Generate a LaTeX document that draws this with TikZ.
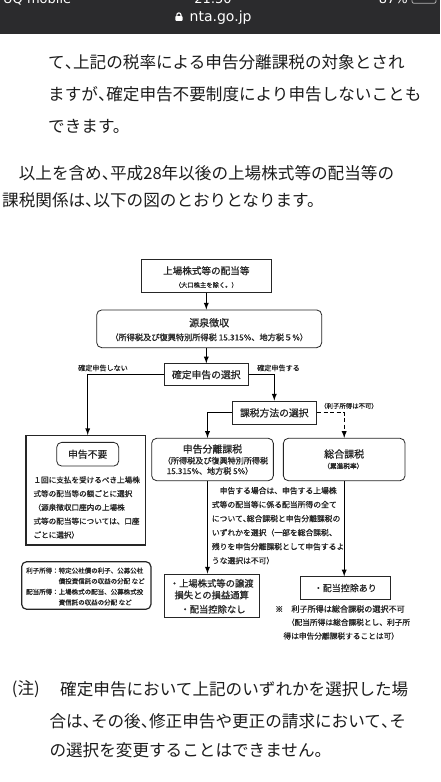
\documentclass[tikz,border=0pt]{standalone}
\usepackage{fontspec}
\newfontfamily\jpfont{Noto Sans CJK JP}
\newfontfamily\figfont[FakeBold=0.8]{Noto Sans CJK JP}
\newfontfamily\barfont{DejaVu Sans}
\definecolor{barbg}{RGB}{43,43,45}
\definecolor{ink}{RGB}{28,28,28}
\definecolor{flowink}{RGB}{38,38,38}
\newcommand{\jsize}[1]{\jpfont\fontsize{#1}{#1}\selectfont}
\newcommand{\fsize}[1]{\figfont\fontsize{#1}{#1}\selectfont}
\newcommand{\hk}{\makebox[0.5em][l]{、}}
\tikzset{
  pagetxt/.style={anchor=west, inner sep=0pt, text=ink, font=\jsize{16.6}},
  bartxt/.style={inner sep=0pt, text=white, font=\barfont\fontsize{13}{15}\selectfont},
  figtxt/.style={inner sep=0pt, text=flowink},
  box/.style={draw=flowink, line width=0.8pt, inner sep=0pt, text=flowink},
  rbox/.style={box, rounded corners=5pt},
  link/.style={draw=black, line width=1.3pt, -latex},
}

\begin{document}
\begin{tikzpicture}[x=1pt, y=-1pt]
\useasboundingbox (0,0) rectangle (440,782);
\fill[white] (0,0) rectangle (440,782);

% browser bar
\fill[barbg] (0,0) rectangle (440,33.5);
\begin{scope}
\clip (0,0) rectangle (440,33.5);
\node[bartxt, anchor=base west] (carrier) at (3,3.5) {UQ mobile};
\node[bartxt, anchor=base] (clock) at (213,3.5) {21:50};
\node[bartxt, anchor=base east] (battery) at (408,3.5) {87\%};
\draw[white!70!black, rounded corners=2pt, line width=0.8pt] (412,-7) rectangle (436,3.3);
\end{scope}
\fill[white, rounded corners=0.8pt] (175.3,16) rectangle (182.5,20.8);
\draw[white, line width=1.1pt] (176.8,16.2) -- (176.8,15) arc[start angle=180, end angle=360, radius=2.1] -- (181,16.2);
\node[anchor=west, inner sep=0pt, text=white, font=\barfont\fontsize{14}{16}\selectfont] (site) at (189.5,17.5) {nta.go.jp};

% page text
\node[pagetxt] (introa) at (48,62) {て\hk 上記の税率による申告分離課税の対象とされ};
\node[pagetxt] (introb) at (48,94.3) {ますが\hk 確定申告不要制度により申告しないことも};
\node[pagetxt] (introc) at (48,126) {できます。};
\node[pagetxt] (parta) at (2,173.3) {　以上を含め\hk 平成28年以後の上場株式等の配当等の};
\node[pagetxt] (partb) at (2,200) {課税関係は\hk 以下の図のとおりとなります。};

% flowchart
\node[box, minimum width=129.3pt, minimum height=33.4pt] (stock) at (206.3,276) {};
\node[figtxt, font=\fsize{9.6}] (stockt) at (206.3,270.7) {上場株式等の配当等};
\node[figtxt, font=\fsize{6.3}] (stocks) at (206.3,285) {（大口株主を除く。）};

\node[rbox, minimum width=225pt, minimum height=37.7pt] (gensen) at (209.2,328.8) {};
\node[figtxt, font=\fsize{10}] (gensent) at (209.2,322.7) {源泉徴収};
\node[figtxt, font=\fsize{8.2}] (gensens) at (209.2,337.3) {（所得税及び復興特別所得税 15.315\%、地方税５\%）};

\node[box, minimum width=84.7pt, minimum height=22pt, font=\fsize{9.8}] (kakutei) at (206.3,374.7) {確定申告の選択};
\node[figtxt, font=\fsize{7.1}] (nolbl) at (103,368) {確定申告しない};
\node[figtxt, font=\fsize{7.1}] (yeslbl) at (278.5,368) {確定申告する};

\node[box, minimum width=84.7pt, minimum height=23.7pt, font=\fsize{9.8}] (houhou) at (274.3,412.8) {課税方法の選択};
\node[figtxt, font=\fsize{6.4}] (rishi) at (349,406) {（利子所得は不可）};

\node[box, line width=1.4pt, minimum width=119.7pt, minimum height=109.3pt] (fuyou) at (85.8,490.3) {};
\node[rbox, minimum width=62pt, minimum height=23.7pt, font=\fsize{9.8}] (fuyout) at (87.7,454.2) {申告不要};
\node[figtxt, anchor=north west, align=left, font=\figfont\fontsize{7.6}{13.75}\selectfont] (fuyounote) at (33.3,476.2)
  {１回に支払を受けるべき上場株\\式等の配当等の額ごとに選択\\（源泉徴収口座内の上場株\\式等の配当等については、口座\\ごとに選択）};

\node[rbox, minimum width=121.7pt, minimum height=42.4pt] (bunri) at (212.5,459.5) {};
\node[figtxt, font=\fsize{9.9}] (bunrit) at (212.5,449) {申告分離課税};
\node[figtxt, font=\fsize{8.1}] (bunris) at (215.5,460.7) {（所得税及び復興特別所得税};
\node[figtxt, font=\fsize{8.1}] (bunrir) at (210,471) {15.315\%、地方税 5\%）};

\node[rbox, minimum width=121.7pt, minimum height=42.4pt] (sougou) at (344.2,459.5) {};
\node[figtxt, font=\fsize{10}] (sougout) at (344.2,454) {総合課税};
\node[figtxt, font=\fsize{6.7}] (sougous) at (343.3,466) {（累進税率）};

\node[figtxt, anchor=north west, align=left, font=\figfont\fontsize{7.8}{14}\selectfont] (choice) at (211.7,486.8)
  {　申告する場合は、申告する上場株\\式等の配当等に係る配当所得の全て\\について\hk 総合課税と申告分離課税の\\いずれかを選択（一部を総合課税、\\残りを申告分離課税として申告するよ\\うな選択は不可）};

\node[box, minimum width=95.3pt, minimum height=43.7pt] (jouto) at (211.7,595.8) {};
\node[figtxt, font=\fsize{9.3}] (joutoa) at (211.7,583.3) {・上場株式等の譲渡};
\node[figtxt, font=\fsize{9.3}] (joutob) at (211.7,595) {損失との損益通算};
\node[figtxt, font=\fsize{9.3}] (joutoc) at (213,609.3) {・配当控除なし};

\node[box, minimum width=90.7pt, minimum height=22.6pt, font=\fsize{9}] (koujo) at (345.3,588) {・配当控除あり};

\node[figtxt, anchor=west, font=\fsize{8.1}] (kome) at (275,609) {※　利子所得は総合課税の選択不可};
\node[figtxt, anchor=west, font=\fsize{7.7}] (komeb) at (286.7,622.3) {（配当所得は総合課税とし、利子所};
\node[figtxt, anchor=west, font=\fsize{7.7}] (komec) at (283.3,636) {得は申告分離課税することは可）};

\node[rbox, line width=1.2pt, minimum width=129.3pt, minimum height=47.6pt] (legend) at (86.3,585.5) {};
\node[figtxt, anchor=north west, align=left, font=\figfont\fontsize{6.5}{10.6}\selectfont] (legendtxt) at (26,567.4)
  {利子所得：特定公社債の利子、公募公社\\\hspace*{32.5pt}債投資信託の収益の分配 など\\配当所得：上場株式の配当、公募株式投\\\hspace*{32.5pt}資信託の収益の分配 など};

% connectors
\draw[link] (stock.south) -- (stock.south |- gensen.north);
\draw[link] (kakutei.north |- gensen.south) -- (kakutei.north);
\draw[link] (kakutei.west) -| (fuyout.north |- fuyou.north);
\draw[link] (kakutei.east) -| (houhou.north);
\draw[link] (houhou.west) -| ([xshift=-5pt]bunri.north);
\draw[link, dash pattern=on 4pt off 2.5pt] (houhou.east) -| (sougou.north);
\draw[link] ([xshift=-5pt]bunri.south) -- ([xshift=-5pt]bunri.south |- jouto.north);
\draw[link] (sougou.south) -- (sougou.south |- koujo.north);

% note
\node[pagetxt] (notea) at (11.7,689.3) {(注)};
\node[pagetxt] (noteb) at (60,689.3) {確定申告において上記のいずれかを選択した場};
\node[pagetxt] (notec) at (49.3,721.7) {合は\hk その後\hk 修正申告や更正の請求において\hk そ};
\node[pagetxt] (noted) at (49.3,750) {の選択を変更することはできません。};
\end{tikzpicture}
\end{document}
